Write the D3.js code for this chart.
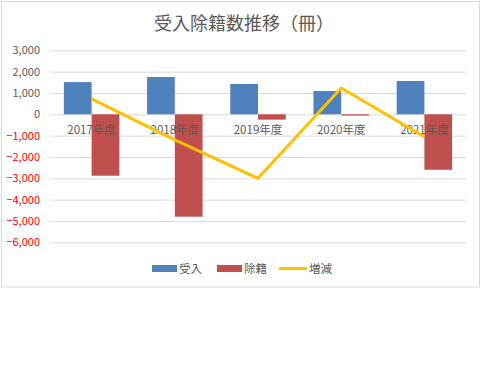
<!DOCTYPE html>
<html><head><meta charset="utf-8">
<script src="https://cdn.jsdelivr.net/npm/d3@7"></script>
<style>body{margin:0;background:#fff}svg{display:block}</style>
</head><body>
<script>
const categories = ['2017年度','2018年度','2019年度','2020年度','2021年度'];
const accepted = [1510, 1750, 1420, 1090, 1560];
const removed = [-2880, -4800, -250, -60, -2600];
const net = [720, -1200, -3000, 1230, -1050];
const yTicks = [3000, 2000, 1000, 0, -1000, -2000, -3000, -4000, -5000, -6000];
const seriesNames = ['受入', '除籍', '増減'];
const colors = ['#4f81bd', '#c0504d', '#ffc000'];
const font = '"Noto Sans CJK JP", "Noto Sans", sans-serif';

const svg = d3.select('body').append('svg').attr('width', 500).attr('height', 375);
svg.append('rect').attr('width', 500).attr('height', 375).attr('fill', '#fff');
svg.append('rect').attr('x', 1.5).attr('y', 1.5).attr('width', 478).attr('height', 285.5)
  .attr('fill', '#fff').attr('stroke', '#d9d9d9');

const x = d3.scaleBand().domain(categories).range([50, 466]).paddingInner(0).paddingOuter(0);
const y = d3.scaleLinear().domain([-6000, 3000]).range([242.3, 50.3]);
const bw = x.bandwidth() / 3;

svg.append('text').attr('x', 244).attr('y', 30).attr('text-anchor', 'middle')
  .attr('font-family', font).attr('font-size', 18).attr('fill', '#595959')
  .text('受入除籍数推移（冊）');

const yAxis = d3.axisLeft(y).tickValues(yTicks).tickSize(-(466 - 50)).tickPadding(10)
  .tickFormat(d3.format(','));
const ga = svg.append('g').attr('transform', 'translate(50,0)').call(yAxis);
ga.select('.domain').remove();
ga.selectAll('.tick line').attr('stroke', '#d9d9d9');
ga.selectAll('.tick text').attr('font-family', font).attr('font-size', 11)
  .attr('fill', d => d < 0 ? '#ff0000' : '#595959');

const cx = d => x(d) + x.bandwidth() / 2;

svg.append('g').selectAll('rect').data(categories).join('rect')
  .attr('x', d => cx(d) - bw).attr('width', bw)
  .attr('y', (d, i) => y(Math.max(0, accepted[i])))
  .attr('height', (d, i) => Math.abs(y(accepted[i]) - y(0)))
  .attr('fill', colors[0]);
svg.append('g').selectAll('rect').data(categories).join('rect')
  .attr('x', d => cx(d)).attr('width', bw)
  .attr('y', (d, i) => y(Math.max(0, removed[i])))
  .attr('height', (d, i) => Math.abs(y(removed[i]) - y(0)))
  .attr('fill', colors[1]);

svg.append('g').selectAll('text').data(categories).join('text')
  .attr('x', d => cx(d)).attr('y', y(0) + 20).attr('text-anchor', 'middle')
  .attr('font-family', font).attr('font-size', 11.5).attr('fill', '#595959')
  .text(d => d);

const line = d3.line().x((d, i) => cx(categories[i])).y(d => y(d));
svg.append('path').datum(net).attr('d', line).attr('fill', 'none')
  .attr('stroke', colors[2]).attr('stroke-width', 3).attr('stroke-linejoin', 'round');

const lg = svg.append('g').attr('font-family', font).attr('font-size', 11.5).attr('fill', '#595959');
lg.append('rect').attr('x', 152).attr('y', 265).attr('width', 25).attr('height', 7).attr('fill', colors[0]);
lg.append('text').attr('x', 179).attr('y', 273).text(seriesNames[0]);
lg.append('rect').attr('x', 217).attr('y', 265).attr('width', 25).attr('height', 7).attr('fill', colors[1]);
lg.append('text').attr('x', 244).attr('y', 273).text(seriesNames[1]);
lg.append('line').attr('x1', 280).attr('x2', 306).attr('y1', 268.5).attr('y2', 268.5)
  .attr('stroke', colors[2]).attr('stroke-width', 3).attr('stroke-linecap', 'round');
lg.append('text').attr('x', 309).attr('y', 273).text(seriesNames[2]);
</script>
</body></html>
